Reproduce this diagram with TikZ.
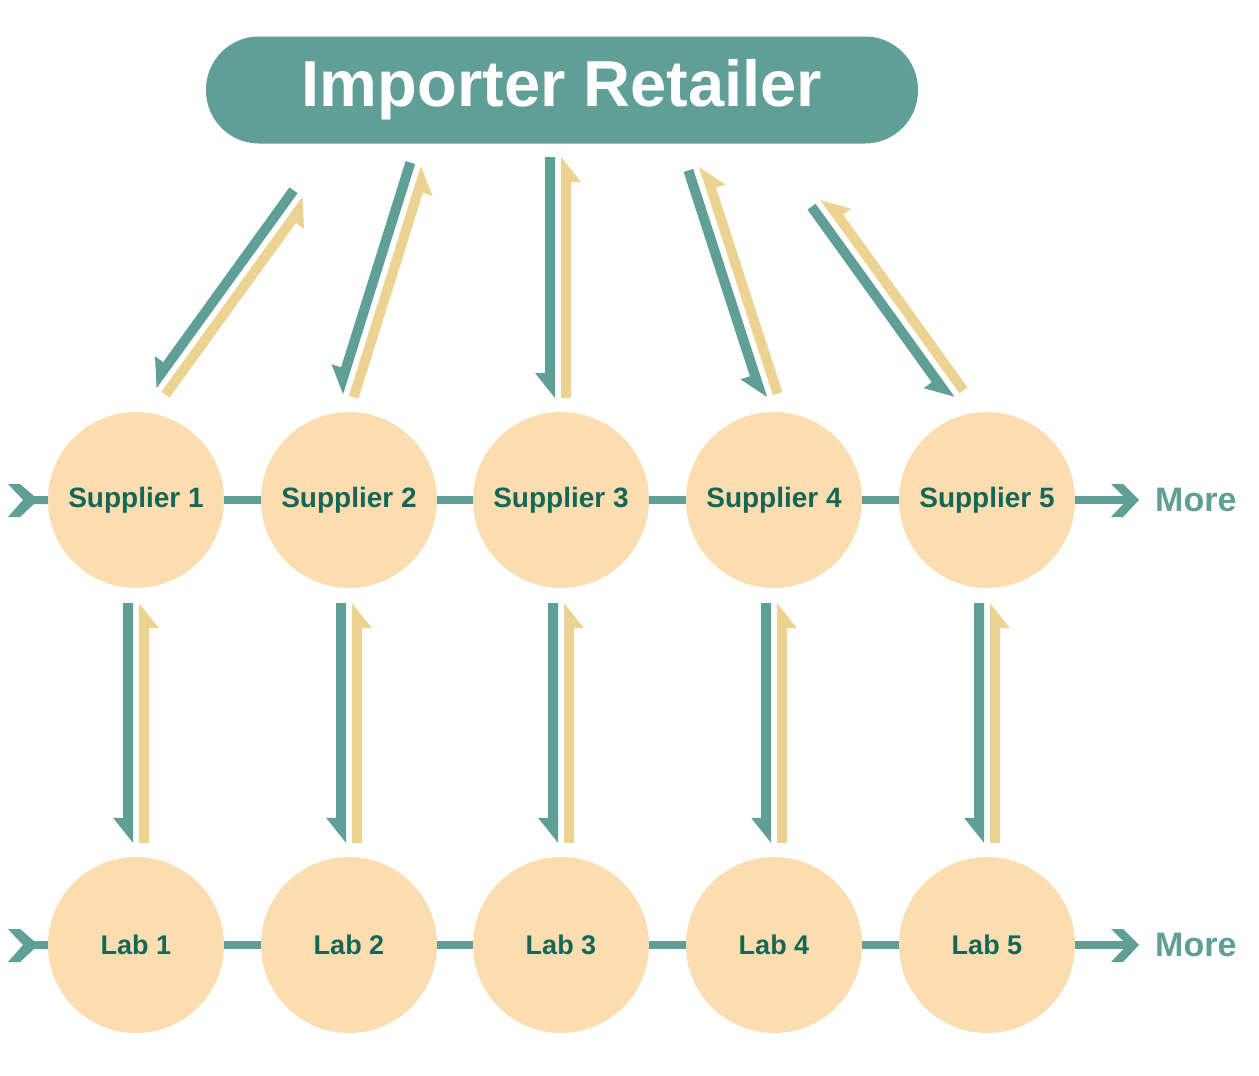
\documentclass[tikz,border=0pt]{standalone}
\usepackage{fontspec}
\setmainfont{Liberation Sans}
\usetikzlibrary{calc}
\definecolor{tealc}{HTML}{5F9F96}
\definecolor{yelc}{HTML}{EDD391}
\definecolor{peachc}{HTML}{FCDDB0}
\definecolor{darkc}{HTML}{166658}
% half arrow: colour, start, end (band on the right-hand side of travel)
\newcommand\halfarr[3]{%
  \path (#2) coordinate (hs) (#3) coordinate (he);
  \path ($(he)!25pt!(hs)$) coordinate (hb);
  \fill[#1] ($(hs)!3pt!-90:(he)$) -- ($(hs)!13pt!-90:(he)$)
     -- ($(hb)!13pt!-90:(he)$) -- ($(hb)!23pt!-90:(he)$)
     -- ($(he)!3pt!90:(hs)$) -- cycle;
}
\newcommand\arrpair[2]{\halfarr{tealc}{#1}{#2}\halfarr{yelc}{#2}{#1}}
\begin{document}
\begin{tikzpicture}[x=1pt,y=-1pt,
  circ/.style={circle,fill=peachc,minimum size=176pt,inner sep=0pt,
     text=darkc,font=\fontsize{28}{30}\selectfont\bfseries},
  labc/.style={circ,font=\fontsize{27}{30}\selectfont\bfseries},
  link/.style={draw=tealc,line width=8pt},
  moretxt/.style={anchor=west,inner sep=0pt,text=tealc,font=\fontsize{34}{36}\selectfont\bfseries}]
\useasboundingbox (0,0) rectangle (1259,1076);
% top node
\node[fill=tealc,rounded corners=53pt,minimum width=712pt,minimum height=107pt,
   inner sep=0pt,text=white,font=\fontsize{65}{70}\selectfont\bfseries] (top) at (562,90) {Importer Retailer};
% suppliers and labs
\foreach \i/\x in {1/136,2/349,3/561,4/774,5/987}{
  \node[circ] (s\i) at (\x,500) {Supplier \i};
  \node[labc] (l\i) at (\x,945) {Lab \i};
}
% horizontal links
\foreach \i/\j in {1/2,2/3,3/4,4/5}{
  \draw[link] (s\i.east) -- (s\j.west);
  \draw[link] (l\i.east) -- (l\j.west);
}
% left tails and right heads
\foreach \r/\y in {s/500,l/945}{
  \coordinate (tail\r) at (8,\y);
  \fill[tealc] (tail\r) ++(0,-16) -- ++(12,0) -- (34,\y-4) -- (\r1.west|-0,\y-4)
     -- (\r1.west|-0,\y+4) -- (34,\y+4) -- (20,\y+17) -- (8,\y+17) -- (23,\y) -- cycle;
  \coordinate (head\r) at (1139,\y);
  \draw[link] (\r5.east) -- (1128,\y);
  \fill[tealc] (head\r) -- (1123,\y-16) -- (1111,\y-16) -- (1127,\y) -- (1111,\y+17) -- (1123,\y+17) -- cycle;
}
\node[moretxt] (more1) at (1155,500) {More};
\node[moretxt] (more2) at (1155,945) {More};
% upper arrow pairs
\coordinate (a1) at (300,195); \coordinate (b1) at (159,390);
\coordinate (a2) at (418,165); \coordinate (b2) at (346,395);
\coordinate (a3) at (558,157); \coordinate (b3) at (558,398);
\coordinate (a4) at (696,168); \coordinate (b4) at (770,396);
\coordinate (a5) at (818,202); \coordinate (b5) at (957,395);
\foreach \i in {1,...,5}{\arrpair{a\i}{b\i}}
% lower arrow pairs
\foreach \i in {1,...,5}{
  \coordinate (c\i) at ($(s\i.south)+(0,15)$);
  \coordinate (d\i) at ($(l\i.north)+(0,-14)$);
  \arrpair{c\i}{d\i}
}
\end{tikzpicture}
\end{document}
